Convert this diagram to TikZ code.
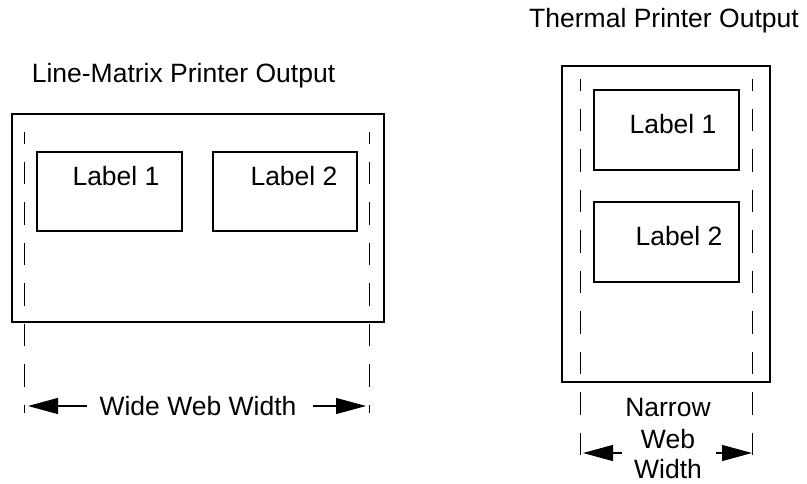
\documentclass[tikz,border=0pt]{standalone}
\usepackage{fontspec}
\setmainfont{Liberation Sans}
\usetikzlibrary{arrows.meta}
\begin{document}
\begin{tikzpicture}[x=1pt,y=-1pt, line width=1.1pt,
  box/.style={draw, rectangle, inner sep=0pt},
  txt/.style={font=\fontsize{26.5}{31.5}\selectfont, inner sep=0pt, anchor=base},
  web/.style={dash pattern=on 22.5pt off 18pt, dash phase=11pt, line width=1pt},
  dim/.style={-{Triangle[length=30pt,width=16pt]}, line width=1.1pt}]
\useasboundingbox (0,0) rectangle (807,483);

% ---------- Line-matrix printer ----------
\node[txt] (lmtitle) at (183.5,82) {Line-Matrix Printer Output};
\node[box, minimum width=372pt, minimum height=208pt] (lmpaper) at (198,218) {};
\node[box, minimum width=145pt, minimum height=79pt] (lmlab1) at (109.5,191.5) {};
\node[box, minimum width=144pt, minimum height=79pt] (lmlab2) at (285,191.5) {};
\node[txt] (lmtext1) at (116,185) {Label 1};
\node[txt] (lmtext2) at (294,185) {Label 2};

\coordinate (lmwebLtop) at (24,132);
\coordinate (lmwebLbot) at (24,413);
\coordinate (lmwebRtop) at (369,132);
\coordinate (lmwebRbot) at (369,413);
\draw[web] (lmwebLtop) -- (lmwebLbot);
\draw[web] (lmwebRtop) -- (lmwebRbot);

\node[txt] (widetext) at (198,415) {Wide Web Width};
\coordinate (wideLa) at (87,406);
\coordinate (wideLb) at (28,406);
\coordinate (wideRa) at (313,406);
\coordinate (wideRb) at (366,406);
\draw[dim] (wideLa) -- (wideLb);
\draw[dim] (wideRa) -- (wideRb);

% ---------- Thermal printer ----------
\node[txt] (thtitle) at (664,27) {Thermal Printer Output};
\node[box, minimum width=208pt, minimum height=316pt] (thpaper) at (666,224) {};
\node[box, minimum width=145pt, minimum height=80pt] (thlab1) at (666.5,130) {};
\node[box, minimum width=145pt, minimum height=80pt] (thlab2) at (666.5,242) {};
\node[txt] (thtext1) at (673,133) {Label 1};
\node[txt] (thtext2) at (679,245) {Label 2};

\coordinate (thwebLtop) at (580,79);
\coordinate (thwebLbot) at (580,460);
\coordinate (thwebRtop) at (752,79);
\coordinate (thwebRbot) at (752,460);
\draw[web] (thwebLtop) -- (thwebLbot);
\draw[web] (thwebRtop) -- (thwebRbot);

\node[txt] (narrow1) at (668,416) {Narrow};
\node[txt] (narrow2) at (668,448) {Web};
\node[txt] (narrow3) at (668,478.5) {Width};
\coordinate (narLa) at (622,453);
\coordinate (narLb) at (583,453);
\coordinate (narRa) at (716,453);
\coordinate (narRb) at (752,453);
\draw[dim] (narLa) -- (narLb);
\draw[dim] (narRa) -- (narRb);
\end{tikzpicture}
\end{document}
